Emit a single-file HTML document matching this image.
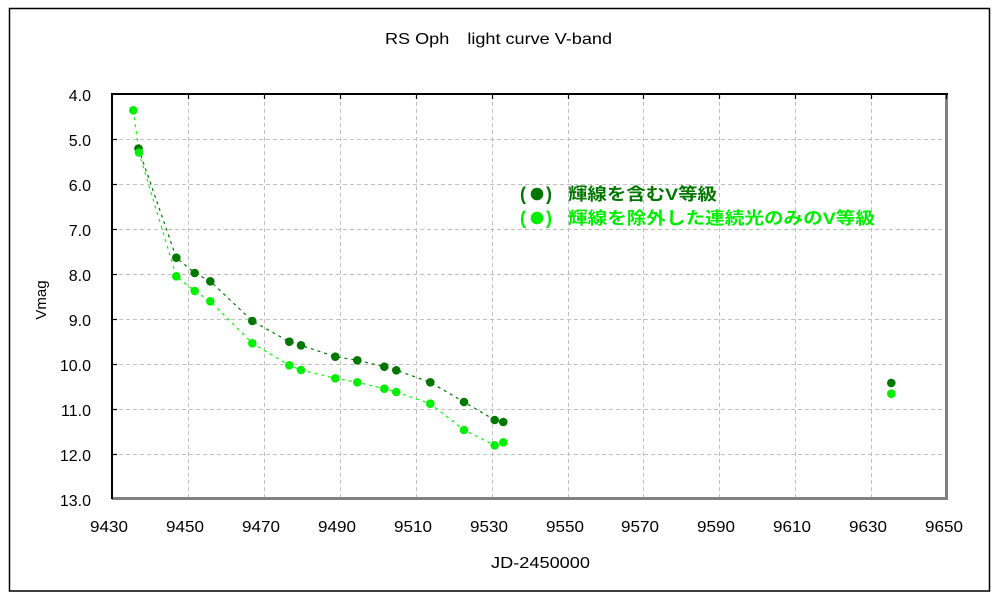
<!DOCTYPE html>
<html><head><meta charset="utf-8"><style>
html,body{margin:0;padding:0;background:#fff;}
svg{display:block;}
text{font-family:"Liberation Sans","Noto Sans CJK JP",sans-serif;}
</style></head><body>
<svg width="1000" height="600" viewBox="0 0 1000 600" xmlns="http://www.w3.org/2000/svg">
<rect x="0" y="0" width="1000" height="600" fill="#fff"/>
<rect x="9.5" y="8.5" width="980" height="582.5" fill="none" stroke="#000" stroke-width="1.5"/>
<text x="385" y="44" font-size="16" textLength="227" lengthAdjust="spacingAndGlyphs">RS Oph　light curve V-band</text>
<g stroke="#c0c0c0" stroke-width="1" stroke-dasharray="4,3" fill="none">
<line x1="112" y1="139.5" x2="946" y2="139.5"/>
<line x1="112" y1="184.5" x2="946" y2="184.5"/>
<line x1="112" y1="229.5" x2="946" y2="229.5"/>
<line x1="112" y1="274.5" x2="946" y2="274.5"/>
<line x1="112" y1="319.5" x2="946" y2="319.5"/>
<line x1="112" y1="364.5" x2="946" y2="364.5"/>
<line x1="112" y1="409.5" x2="946" y2="409.5"/>
<line x1="112" y1="454.5" x2="946" y2="454.5"/>
<line x1="188.5" y1="95" x2="188.5" y2="498"/>
<line x1="264.5" y1="95" x2="264.5" y2="498"/>
<line x1="340.5" y1="95" x2="340.5" y2="498"/>
<line x1="416.5" y1="95" x2="416.5" y2="498"/>
<line x1="492.5" y1="95" x2="492.5" y2="498"/>
<line x1="568.5" y1="95" x2="568.5" y2="498"/>
<line x1="643.5" y1="95" x2="643.5" y2="498"/>
<line x1="719.5" y1="95" x2="719.5" y2="498"/>
<line x1="795.5" y1="95" x2="795.5" y2="498"/>
<line x1="871.5" y1="95" x2="871.5" y2="498"/>
</g>
<!-- frame -->
<line x1="112" y1="498.5" x2="948" y2="498.5" stroke="#808080" stroke-width="3"/>
<line x1="946.5" y1="94" x2="946.5" y2="500" stroke="#808080" stroke-width="3"/>
<line x1="111" y1="94" x2="948" y2="94" stroke="#000" stroke-width="2"/>
<line x1="112" y1="93" x2="112" y2="499" stroke="#000" stroke-width="2"/>
<g stroke="#000" stroke-width="1.2">
<line x1="112" y1="139.5" x2="117" y2="139.5"/>
<line x1="112" y1="184.5" x2="117" y2="184.5"/>
<line x1="112" y1="229.5" x2="117" y2="229.5"/>
<line x1="112" y1="274.5" x2="117" y2="274.5"/>
<line x1="112" y1="319.5" x2="117" y2="319.5"/>
<line x1="112" y1="364.5" x2="117" y2="364.5"/>
<line x1="112" y1="409.5" x2="117" y2="409.5"/>
<line x1="112" y1="454.5" x2="117" y2="454.5"/>
<line x1="188.5" y1="94" x2="188.5" y2="99"/>
<line x1="264.5" y1="94" x2="264.5" y2="99"/>
<line x1="340.5" y1="94" x2="340.5" y2="99"/>
<line x1="416.5" y1="94" x2="416.5" y2="99"/>
<line x1="492.5" y1="94" x2="492.5" y2="99"/>
<line x1="568.5" y1="94" x2="568.5" y2="99"/>
<line x1="643.5" y1="94" x2="643.5" y2="99"/>
<line x1="719.5" y1="94" x2="719.5" y2="99"/>
<line x1="795.5" y1="94" x2="795.5" y2="99"/>
<line x1="871.5" y1="94" x2="871.5" y2="99"/>
<line x1="946.5" y1="94" x2="946.5" y2="99"/>
</g>
<!-- y labels -->
<g font-size="16" text-anchor="end" fill="#000">
<text x="91" y="101">4.0</text>
<text x="91" y="146">5.0</text>
<text x="91" y="191">6.0</text>
<text x="91" y="236">7.0</text>
<text x="91" y="281">8.0</text>
<text x="91" y="326">9.0</text>
<text x="91" y="371">10.0</text>
<text x="91" y="416">11.0</text>
<text x="91" y="461">12.0</text>
<text x="91" y="506">13.0</text>
</g>
<g font-size="16" fill="#000">
<text x="90" y="532" textLength="38" lengthAdjust="spacingAndGlyphs">9430</text>
<text x="166" y="532" textLength="38" lengthAdjust="spacingAndGlyphs">9450</text>
<text x="242" y="532" textLength="38" lengthAdjust="spacingAndGlyphs">9470</text>
<text x="318" y="532" textLength="38" lengthAdjust="spacingAndGlyphs">9490</text>
<text x="394" y="532" textLength="38" lengthAdjust="spacingAndGlyphs">9510</text>
<text x="470" y="532" textLength="38" lengthAdjust="spacingAndGlyphs">9530</text>
<text x="546" y="532" textLength="38" lengthAdjust="spacingAndGlyphs">9550</text>
<text x="621" y="532" textLength="38" lengthAdjust="spacingAndGlyphs">9570</text>
<text x="697" y="532" textLength="38" lengthAdjust="spacingAndGlyphs">9590</text>
<text x="773" y="532" textLength="38" lengthAdjust="spacingAndGlyphs">9610</text>
<text x="849" y="532" textLength="38" lengthAdjust="spacingAndGlyphs">9630</text>
<text x="925" y="532" textLength="38" lengthAdjust="spacingAndGlyphs">9650</text>
</g>
<text x="491" y="568" font-size="16" textLength="99" lengthAdjust="spacingAndGlyphs">JD-2450000</text>
<text x="0" y="0" font-size="15" text-anchor="middle" transform="translate(46,300) rotate(-90)">Vmag</text>
<!-- series lines -->
<polyline fill="none" stroke="#007800" stroke-width="1.2" stroke-dasharray="3,4" points="138.5,148.5 176.3,257.7 194.7,273 210.3,281.3 252.3,321 289.3,341.7 301,345.3 335.3,356.7 357.3,360.3 384.3,366.7 396.3,370.3 430.3,382.3 464,402 494.7,420 503.3,422"/>
<polyline fill="none" stroke="#00ff00" stroke-width="1.2" stroke-dasharray="3,4" points="133.3,110.3 139,152.5 176.3,276.3 194.7,291 210.3,301.3 252.3,343.3 289.3,365.3 301,370 335.3,378.3 357.3,382.3 384.3,388.7 396.3,392 430.3,403.7 464,430 494.7,445.3 503.3,442.3"/>
<g fill="#007800">
<circle cx="138.5" cy="148.5" r="4.3"/><circle cx="176.3" cy="257.7" r="4.3"/><circle cx="194.7" cy="273" r="4.3"/><circle cx="210.3" cy="281.3" r="4.3"/><circle cx="252.3" cy="321" r="4.3"/><circle cx="289.3" cy="341.7" r="4.3"/><circle cx="301" cy="345.3" r="4.3"/><circle cx="335.3" cy="356.7" r="4.3"/><circle cx="357.3" cy="360.3" r="4.3"/><circle cx="384.3" cy="366.7" r="4.3"/><circle cx="396.3" cy="370.3" r="4.3"/><circle cx="430.3" cy="382.3" r="4.3"/><circle cx="464" cy="402" r="4.3"/><circle cx="494.7" cy="420" r="4.3"/><circle cx="503.3" cy="422" r="4.3"/><circle cx="891.3" cy="383" r="4.3"/>
</g>
<g fill="#00f000">
<circle cx="133.3" cy="110.3" r="4.3"/><circle cx="139" cy="152.5" r="4.3"/><circle cx="176.3" cy="276.3" r="4.3"/><circle cx="194.7" cy="291" r="4.3"/><circle cx="210.3" cy="301.3" r="4.3"/><circle cx="252.3" cy="343.3" r="4.3"/><circle cx="289.3" cy="365.3" r="4.3"/><circle cx="301" cy="370" r="4.3"/><circle cx="335.3" cy="378.3" r="4.3"/><circle cx="357.3" cy="382.3" r="4.3"/><circle cx="384.3" cy="388.7" r="4.3"/><circle cx="396.3" cy="392" r="4.3"/><circle cx="430.3" cy="403.7" r="4.3"/><circle cx="464" cy="430" r="4.3"/><circle cx="494.7" cy="445.3" r="4.3"/><circle cx="503.3" cy="442.3" r="4.3"/><circle cx="891.3" cy="393.7" r="4.3"/>
</g>
<!-- legend -->
<g font-size="18" font-weight="bold" fill="#007800">
<text x="520" y="200" font-family="Liberation Sans, sans-serif">(</text>
<circle cx="537" cy="194" r="6.3"/>
<text x="546" y="200" font-family="Liberation Sans, sans-serif">)</text>
<text x="568" y="200" font-size="17" textLength="149" lengthAdjust="spacingAndGlyphs">輝線を含むV等級</text>
</g>
<g font-size="18" font-weight="bold" fill="#00ee00">
<text x="520" y="224" font-family="Liberation Sans, sans-serif">(</text>
<circle cx="537" cy="218" r="6.3"/>
<text x="546" y="224" font-family="Liberation Sans, sans-serif">)</text>
<text x="568" y="224" font-size="17" textLength="307" lengthAdjust="spacingAndGlyphs">輝線を除外した連続光のみのV等級</text>
</g>
</svg>
</body></html>
